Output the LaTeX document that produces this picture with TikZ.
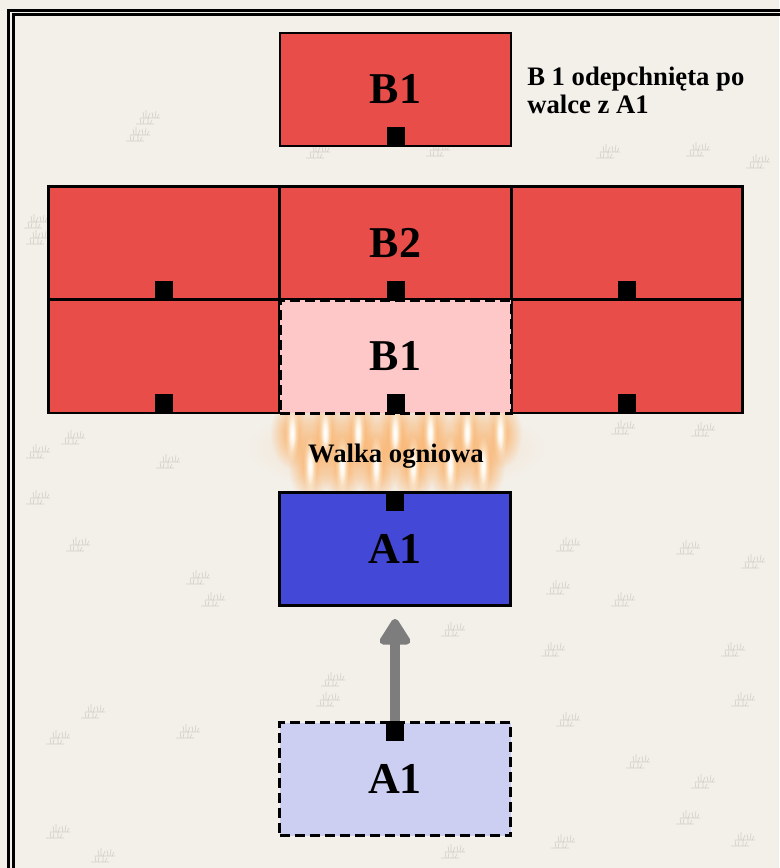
\documentclass[tikz,border=0pt]{standalone}
\usepackage{fontspec}
\setmainfont{Liberation Serif}
\usetikzlibrary{arrows.meta,fadings}

\definecolor{parchment}{RGB}{243,240,234}
\definecolor{redunit}{RGB}{232,77,74}
\definecolor{pinkunit}{RGB}{255,200,200}
\definecolor{blueunit}{RGB}{67,72,214}
\definecolor{paleblue}{RGB}{204,207,242}
\definecolor{arrowgray}{RGB}{125,125,125}
\definecolor{tuftgray}{RGB}{210,207,200}
\definecolor{flameglow}{RGB}{252,165,80}
\definecolor{flamehalo}{RGB}{250,205,160}
\definecolor{flamecore}{RGB}{255,253,240}

\tikzfading[name=softglow, inner color=transparent!0, outer color=transparent!100]

\tikzset{
  unitbox/.style={draw=black, line width=2pt, minimum width=173.25pt,
    minimum height=84.75pt, inner sep=0pt,
    font=\bfseries\fontsize{33}{36}\selectfont},
  redbox/.style={unitbox, fill=redunit},
  ghostred/.style={unitbox, fill=pinkunit, line width=2.25pt, dash pattern=on 7.5pt off 3.75pt},
  bluebox/.style={unitbox, fill=blueunit},
  ghostblue/.style={unitbox, fill=paleblue, line width=2.25pt, dash pattern=on 7.5pt off 3.75pt},
  front/.style={fill=black, minimum width=13.5pt, minimum height=15pt, inner sep=0pt},
  % a small patch of sketched grass
  tuft/.pic={
    \draw[tuftgray, line width=0.45pt]
      (-10,0) -- (10,0)
      (-6,0) -- (-7,-6) (-4,0) -- (-4,-8) (-2,0) -- (0,-5)
      (3,0) -- (2,-6) (5,0) -- (6,-7) (7,0) -- (9,-4)
      (-14,6) -- (4,6)
      (-9,6) -- (-10,0.5) (-7,6) -- (-6,1) (-2,6) -- (-2,0.5) (0,6) -- (2,2);
  },
  flame/.pic={
    \fill[flameglow, opacity=0.85, path fading=softglow] (0,0) ellipse (22 and 36);
    \fill[flamecore, path fading=softglow] (0,0) ellipse (7 and 30);
    \fill[white, path fading=softglow] (0,0) ellipse (4 and 20);
  }
}

\begin{document}
\begin{tikzpicture}[x=0.75pt,y=-0.75pt]
  % paper
  \fill[parchment] (0,0) rectangle (779,868);
  \useasboundingbox (0,0) rectangle (779,868);

  % grass sketches scattered on the paper
  \foreach \px/\py in {150/118, 140/135, 320/152, 440/150, 610/152, 700/150, 760/162,
      38/222, 40/238, 75/438, 40/452, 170/462, 625/428, 705/430, 40/498,
      570/545, 690/548, 755/562, 560/588, 625/600, 80/545, 200/578, 215/600,
      555/650, 735/650, 335/680, 330/700, 455/630, 95/712, 190/732, 60/738,
      570/720, 640/762, 705/782, 745/700, 60/832, 105/856, 455/852, 565/842,
      690/818, 745/840} {
    \pic at (\px,\py) {tuft};
  }

  % double frame
  \draw[black, line width=2.25pt] (8.2,10) rectangle (800,890);
  \draw[black, line width=2.25pt] (13,14.5) rectangle (795,885);

  % fire exchange, drawn first so the units sit over the glow
  \fill[flamehalo, opacity=0.75, path fading=softglow] (396,448) ellipse (150 and 48);
  \foreach \fx in {292,325,358,395,430,467,500} { \pic at (\fx,433) {flame}; }
  \foreach \fx in {310,342,376,413,450,483} { \pic at (\fx,466) {flame}; }

  % defending line
  \node[redbox] (b1top) at (395.5,89.5) {B1};
  \node[redbox] (l1) at (164,243) {};
  \node[redbox] (b2) at (395.5,243) {B2};
  \node[redbox] (r1) at (627,243) {};
  \node[redbox] (l2) at (164,356.5) {};
  \node[redbox] (r2) at (627,356.5) {};
  \node[ghostred] (b1old) at (395.5,356.5) {B1};

  % attacker
  \node[bluebox] (a1) at (395,549) {A1};
  \node[ghostblue] (a1old) at (395,779) {A1};

  \node[font=\bfseries\fontsize{20}{22}\selectfont, anchor=base] (fire) at (396,462) {Walka ogniowa};

  % advance of A1
  \draw[arrowgray, line width=8pt, line cap=round,
        -{Triangle[length=22pt, width=26pt, round]}, shorten >=9pt]
    (a1old.north) -- (a1.south);

  % unit fronts
  \node[front, anchor=south] (fb1top) at (b1top.south) {};
  \node[front, anchor=south] (fl1) at (l1.south) {};
  \node[front, anchor=south] (fb2) at (b2.south) {};
  \node[front, anchor=south] (fr1) at (r1.south) {};
  \node[front, anchor=south] (fl2) at (l2.south) {};
  \node[front, anchor=south] (fb1old) at (b1old.south) {};
  \node[front, anchor=south] (fr2) at (r2.south) {};
  \node[front, anchor=north] (fa1) at (a1.north) {};
  \node[front, anchor=north] (fa1old) at (a1old.north) {};

  % note
  \node[font=\bfseries\fontsize{20}{21}\selectfont, align=left, anchor=north west,
        inner sep=0pt] (note) at (527,67) {B 1 odepchnięta po\\walce z A1};
\end{tikzpicture}
\end{document}
